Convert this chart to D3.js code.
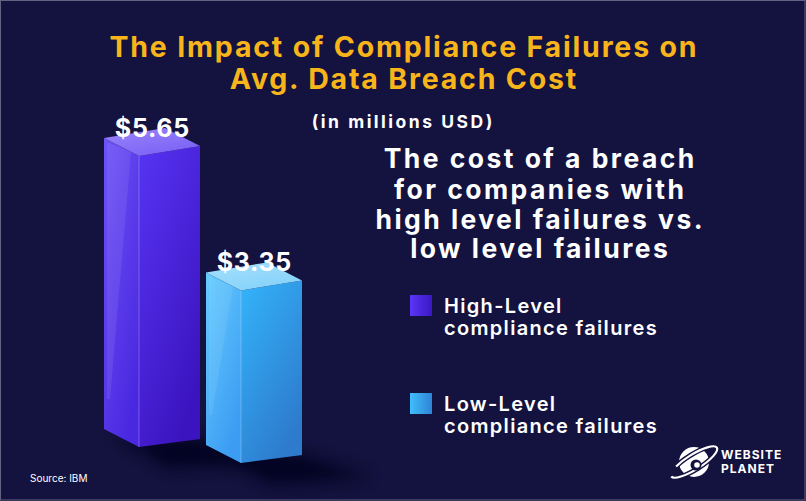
<!DOCTYPE html>
<html>
<head>
<meta charset="utf-8">
<script src="https://cdn.jsdelivr.net/npm/d3@7/dist/d3.min.js"></script>
<style>
  html, body { margin: 0; padding: 0; background: #14123f; }
  svg { display: block; }
</style>
</head>
<body>
<svg id="chart" width="806" height="501"></svg>
<script>
// ---------- data ----------
const categories = ["High-Level compliance failures", "Low-Level compliance failures"];
const values = [5.65, 3.35];
const valueLabels = ["$5.65", "$3.35"];
const legendLines = [["High-Level", "compliance failures"], ["Low-Level", "compliance failures"]];
const titleLines = ["The Impact of Compliance Failures on", "Avg. Data Breach Cost"];
const unitLabel = "(in millions USD)";
const subtitleLines = ["The cost of a breach", "for companies with", "high level failures vs.", "low level failures"];
const sourceText = "Source: IBM";
const logoLines = ["WEBSITE", "PLANET"];

// ---------- setup ----------
const W = 806, H = 501;
const svg = d3.select("#chart");
const FONT = "Inter, 'Open Sans', 'DejaVu Sans', sans-serif";

svg.append("rect").attr("width", W).attr("height", H).attr("fill", "#14123f");

const defs = svg.append("defs");
const palettes = [
  { front: ["#5634f4", "#3c14bf"], left: ["#6d52f7", "#4a28e0"], top: ["#9a86fa", "#7c62f6"], legend: ["#5a36f6", "#3a17c4"] },
  { front: ["#33b4fb", "#2e7bcd"], left: ["#66ccff", "#3b9cf2"], top: ["#a6e0fc", "#86d2fa"], legend: ["#3fbefc", "#2e84d6"] }
];
palettes.forEach((p, i) => {
  ["front", "left", "top", "legend"].forEach(k => {
    const g = defs.append("linearGradient").attr("id", `g-${k}-${i}`)
      .attr("x1", "0").attr("y1", "0")
      .attr("x2", k === "legend" ? "1" : "0.6").attr("y2", k === "legend" ? "0" : "1");
    g.append("stop").attr("offset", "0").attr("stop-color", p[k][0]);
    g.append("stop").attr("offset", "1").attr("stop-color", p[k][1]);
  });
});
const blur = defs.append("filter").attr("id", "blur").attr("x", "-50%").attr("y", "-50%").attr("width", "200%").attr("height", "200%");
blur.append("feGaussianBlur").attr("stdDeviation", 8);

// ---------- scales ----------
const x = d3.scaleBand().domain(categories).range([139, 343]).paddingInner(0).paddingOuter(0);
const h = d3.scaleLinear().domain([0, 6]).range([0, 6 * 51.5]);
const baseY = 447, baseStep = 16;
const depthX = 35, depthY = 18, frontW = 61, slopeTop = 10, slopeBot = 8;

const bars = categories.map((c, i) => {
  const fx = x(c);
  const by = baseY + i * baseStep;
  const fy = by - h(values[i]);
  return { c, i, fx, by, fy, v: values[i] };
});

// shadows
svg.append("g").selectAll("path").data(bars).join("path")
  .attr("d", d => {
    const p = d3.path();
    p.moveTo(d.fx - depthX + 10, d.by - depthY + 6);
    p.lineTo(d.fx + frontW, d.by - slopeBot);
    p.lineTo(d.fx + frontW + 70, d.by + 14);
    p.lineTo(d.fx + 30, d.by + 22);
    p.closePath();
    return p.toString();
  })
  .attr("fill", "#06051c").attr("opacity", 0.85).attr("filter", "url(#blur)");

const barG = svg.append("g").selectAll("g").data(bars).join("g");

// left face
barG.append("path").attr("d", d => {
  const p = d3.path();
  p.moveTo(d.fx - depthX, d.fy - depthY);
  p.lineTo(d.fx, d.fy);
  p.lineTo(d.fx, d.by);
  p.lineTo(d.fx - depthX, d.by - depthY);
  p.closePath();
  return p.toString();
}).attr("fill", d => `url(#g-left-${d.i})`);

// front face
barG.append("path").attr("d", d => {
  const p = d3.path();
  p.moveTo(d.fx, d.fy);
  p.lineTo(d.fx + frontW, d.fy - slopeTop);
  p.lineTo(d.fx + frontW, d.by - slopeBot);
  p.lineTo(d.fx, d.by);
  p.closePath();
  return p.toString();
}).attr("fill", d => `url(#g-front-${d.i})`);

// glossy highlight on left face
barG.append("path").attr("d", d => {
  const p = d3.path();
  p.moveTo(d.fx - depthX + 3, d.fy - depthY + 4);
  p.lineTo(d.fx - 8, d.fy - 4);
  p.lineTo(d.fx - depthX + 6, d.by - depthY - 30);
  p.lineTo(d.fx - depthX + 3, d.by - depthY - 30);
  p.closePath();
  return p.toString();
}).attr("fill", "#ffffff").attr("opacity", 0.08);

// top face
barG.append("path").attr("d", d => {
  const p = d3.path();
  p.moveTo(d.fx - depthX, d.fy - depthY);
  p.lineTo(d.fx - depthX + frontW, d.fy - depthY - slopeTop);
  p.lineTo(d.fx + frontW, d.fy - slopeTop);
  p.lineTo(d.fx, d.fy);
  p.closePath();
  return p.toString();
}).attr("fill", d => `url(#g-top-${d.i})`);

// edge highlight
barG.append("line")
  .attr("x1", d => d.fx).attr("y1", d => d.fy)
  .attr("x2", d => d.fx).attr("y2", d => d.by)
  .attr("stroke", "#ffffff").attr("stroke-opacity", 0.25).attr("stroke-width", 1);

// ---------- text helpers ----------
function fitSpacing(text, weight, size, target) {
  const t = svg.append("text").attr("font-family", FONT).attr("font-weight", weight)
    .attr("font-size", size).text(text);
  const w = t.node().getComputedTextLength();
  t.remove();
  return (target - w) / text.length;
}

// value labels
const valSize = 25;
const valSpacing = fitSpacing(valueLabels[0], 700, valSize, 75);
barG.append("text")
  .attr("x", d => d.fx + 13 + valSpacing / 2)
  .attr("y", d => d.fy - depthY - 1)
  .attr("text-anchor", "middle")
  .attr("font-family", FONT).attr("font-weight", 700).attr("font-size", valSize)
  .attr("letter-spacing", valSpacing)
  .attr("fill", "#ffffff")
  .text(d => valueLabels[d.i]);

// title
const titleSize = 28.5;
const titleSpacing = fitSpacing(titleLines[0], 700, titleSize, 589);
svg.append("g").selectAll("text").data(titleLines).join("text")
  .attr("x", 403 + titleSpacing / 2).attr("y", (d, i) => 57 + i * 32)
  .attr("text-anchor", "middle")
  .attr("font-family", FONT).attr("font-weight", 700).attr("font-size", titleSize)
  .attr("letter-spacing", titleSpacing)
  .attr("fill", "#f8b51b").text(d => d);

// unit
const unitSize = 17.5;
const unitSpacing = fitSpacing(unitLabel, 700, unitSize, 183);
svg.append("text").attr("x", 402 + unitSpacing / 2).attr("y", 128).attr("text-anchor", "middle")
  .attr("font-family", FONT).attr("font-weight", 700).attr("font-size", unitSize)
  .attr("letter-spacing", unitSpacing)
  .attr("fill", "#ffffff").text(unitLabel);

// subtitle
const subSize = 26.5;
const subSpacing = fitSpacing(subtitleLines[0], 700, subSize, 313);
const subBase = [168, 198.5, 228.5, 258];
svg.append("g").selectAll("text").data(subtitleLines).join("text")
  .attr("x", 539 + subSpacing / 2).attr("y", (d, i) => subBase[i])
  .attr("text-anchor", "middle")
  .attr("font-family", FONT).attr("font-weight", 700).attr("font-size", subSize)
  .attr("letter-spacing", subSpacing)
  .attr("fill", "#ffffff").text(d => d);

// legend
const legSize = 20;
const legSpacing = fitSpacing(legendLines[0][1], 600, legSize, 214);
const legG = svg.append("g").selectAll("g").data(categories).join("g")
  .attr("transform", (d, i) => `translate(410, ${295 + i * 98})`);
legG.append("rect").attr("width", 22).attr("height", 21)
  .attr("fill", (d, i) => `url(#g-legend-${i})`);
legG.each(function(d, i) {
  d3.select(this).selectAll("text").data(legendLines[i]).join("text")
    .attr("x", 34).attr("y", (t, j) => 18 + j * 22)
    .attr("font-family", FONT).attr("font-weight", 600).attr("font-size", legSize)
    .attr("letter-spacing", legSpacing)
    .attr("fill", "#ffffff").text(t => t);
});

// source
svg.append("text").attr("x", 30).attr("y", 482)
  .attr("font-family", FONT).attr("font-weight", 400).attr("font-size", 10)
  .attr("fill", "#ffffff").text(sourceText);

// logo
const logo = svg.append("g").attr("transform", "translate(694, 462)");
logo.append("circle").attr("r", 15).attr("fill", "#ffffff");
logo.append("ellipse").attr("rx", 27).attr("ry", 7.5).attr("transform", "rotate(-32)")
  .attr("fill", "none").attr("stroke", "#14123f").attr("stroke-width", 5);
logo.append("ellipse").attr("rx", 27).attr("ry", 7.5).attr("transform", "rotate(-32)")
  .attr("fill", "none").attr("stroke", "#ffffff").attr("stroke-width", 2.2)
  .attr("stroke-dasharray", "58 12 200").attr("stroke-dashoffset", 0);
logo.append("circle").attr("cx", 2).attr("cy", 3).attr("r", 5.5).attr("fill", "#14123f");
logo.append("circle").attr("cx", 3).attr("cy", 3).attr("r", 2.8).attr("fill", "#ffffff");
svg.append("g").selectAll("text").data(logoLines).join("text")
  .attr("x", 721).attr("y", (d, i) => 459 + i * 14)
  .attr("font-family", FONT).attr("font-weight", 700).attr("font-size", 12)
  .attr("letter-spacing", 1).attr("fill", "#ffffff").text(d => d);

// border
svg.append("rect").attr("x", 0.5).attr("y", 0.5).attr("width", W - 1.5).attr("height", H - 1.5)
  .attr("fill", "none").attr("stroke", "#9a98a8").attr("stroke-width", 1).attr("stroke-opacity", 0.6);
</script>
</body>
</html>
